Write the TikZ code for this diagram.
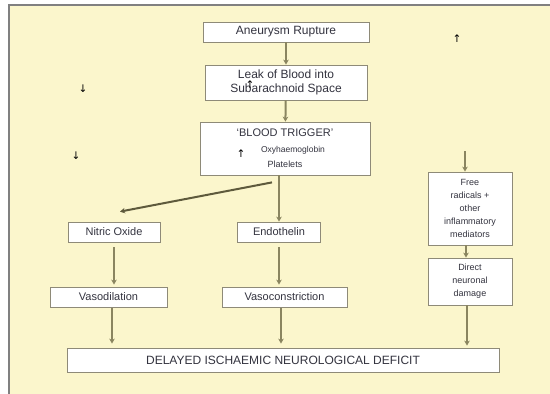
\documentclass[tikz,border=0pt]{standalone}
\usepackage{fontspec}
\setmainfont{Liberation Sans}
\newfontfamily\symfont{DejaVu Sans}
\usetikzlibrary{arrows.meta}
\definecolor{bgy}{HTML}{FBF6CC}
\definecolor{edgec}{HTML}{8E8A78}
\definecolor{arr}{HTML}{8A8560}
\definecolor{arrdark}{HTML}{5E5A3C}
\definecolor{txt}{HTML}{33333F}
\begin{document}
\begin{tikzpicture}[x=1pt,y=-1pt,
  box/.style={draw=edgec,line width=0.8pt,fill=white,inner sep=0pt,text=txt,align=center,font=\fontsize{11}{13}\selectfont},
  bigbox/.style={box,font=\fontsize{12}{14}\selectfont},
  smallbox/.style={box,font=\fontsize{9}{13}\selectfont},
  flow/.style={draw=arr,line width=2pt,-{Stealth[length=5pt,width=5.5pt]}},
  stray/.style={font=\symfont\fontsize{10.5}{10.5}\selectfont,text=black,inner sep=0pt}]
\useasboundingbox (0,0) rectangle (550,394);
\fill[bgy] (9,5) rectangle (550,394);
\draw[gray,line width=1.2pt] (9,394) -- (9,5) -- (550,5);

\node[bigbox,minimum width=166pt,minimum height=20pt] (rupt) at (286,32) {Aneurysm Rupture};
\node[bigbox,minimum width=162pt,minimum height=35pt] (leak) at (286,82.5) {Leak of Blood into\\Subarachnoid Space};
\node[box,minimum width=170pt,minimum height=53pt] (trig) at (285,148.5)
  {{\fontsize{11}{13}\selectfont ‘BLOOD TRIGGER’}\\[3pt]{\fontsize{8.5}{10}\selectfont \hspace{16pt}Oxyhaemoglobin}\\[2pt]{\fontsize{9}{10}\selectfont Platelets}};
\node[box,minimum width=92pt,minimum height=20pt] (nitric) at (114,232) {Nitric Oxide};
\node[box,minimum width=83pt,minimum height=20pt] (endo) at (279,232) {Endothelin};
\node[box,minimum width=117pt,minimum height=20pt] (vasod) at (108.5,297) {Vasodilation};
\node[box,minimum width=125pt,minimum height=20pt] (vasoc) at (284.5,297) {Vasoconstriction};
\node[bigbox,minimum width=432pt,minimum height=24pt] (dind) at (283,360) {DELAYED ISCHAEMIC NEUROLOGICAL DEFICIT};
\node[smallbox,minimum width=84pt,minimum height=73pt] (free) at (470,208.5) {Free\\radicals +\\other\\inflammatory\\mediators};
\node[smallbox,minimum width=84pt,minimum height=47pt] (direct) at (470,281.5) {Direct\\neuronal\\damage};

\coordinate (ftop) at (465,151);

\draw[flow] (rupt) -- (leak);
\draw[flow] (leak) -- (trig);
\draw[flow] (endo.north |- trig.south) -- (endo.north);
\draw[arrdark,line width=2pt,-{Stealth[length=5pt,width=5.5pt]}] ([xshift=-13pt,yshift=-7pt]trig.south) -- ([xshift=6pt,yshift=10pt]nitric.north);
\draw[flow,shorten <=5pt,shorten >=2pt] (nitric.south) -- (nitric.south |- vasod.north);
\draw[flow,shorten <=5pt,shorten >=2pt] (endo.south) -- (endo.south |- vasoc.north);
\draw[flow,shorten <=1pt,shorten >=4pt] ([xshift=3.5pt]vasod.south) -- ([xshift=3.5pt]vasod.south |- dind.north);
\draw[flow,shorten <=1pt,shorten >=4pt] ([xshift=-3.5pt]vasoc.south) -- ([xshift=-3.5pt]vasoc.south |- dind.north);
\draw[flow] (ftop) -- (ftop |- free.north);
\draw[flow] ([xshift=-4pt]free.south) -- ([xshift=-4pt]direct.north);
\draw[flow,shorten >=2pt] ([xshift=-3pt]direct.south) -- ([xshift=-3pt]direct.south |- dind.north);

\node[stray] (s1) at (83,89) {↓};
\node[stray] (s2) at (76,156) {↓};
\node[stray] (s3) at (457,39) {↑};
\node[stray] (s4) at (250,85) {↑};
\node[stray] (s5) at (241,154) {↑};
\end{tikzpicture}
\end{document}
